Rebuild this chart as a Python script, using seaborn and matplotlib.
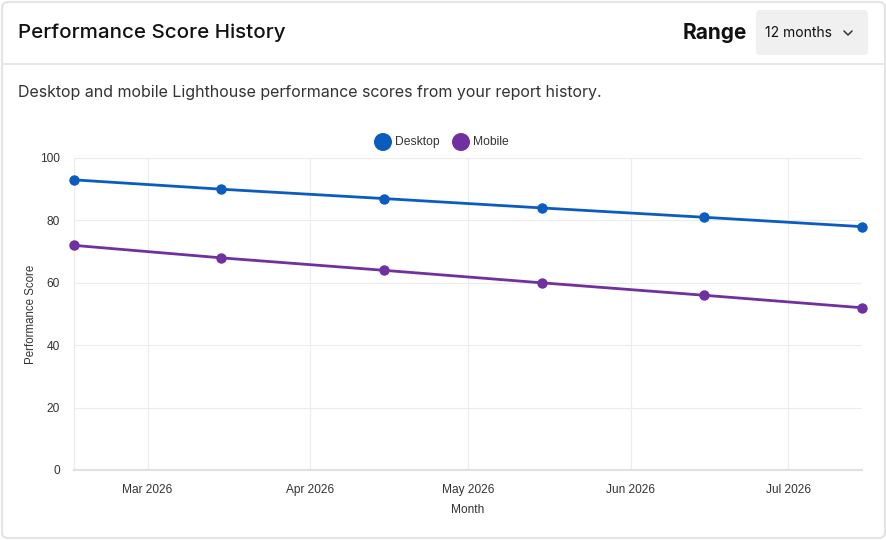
import numpy as np
import matplotlib
matplotlib.use("Agg")
import matplotlib.pyplot as plt
import matplotlib.dates as mdates
from matplotlib.patches import FancyBboxPatch, Circle
from matplotlib.lines import Line2D
import pandas as pd
import seaborn as sns

# data
months = ["2026-02-15", "2026-03-15", "2026-04-15", "2026-05-15", "2026-06-15", "2026-07-15"]
desktop_scores = [93, 90, 87, 84, 81, 78]
mobile_scores = [72, 68, 64, 60, 56, 52]
y_ticks = [0, 20, 40, 60, 80, 100]

colors = {"Desktop": "#0b5cbf", "Mobile": "#7030a0"}

df = pd.DataFrame({
    "Month": pd.to_datetime(months * 2),
    "Score": desktop_scores + mobile_scores,
    "Device": ["Desktop"] * len(months) + ["Mobile"] * len(months),
})

sns.set_theme(style="white")
plt.rcParams["font.family"] = ["Liberation Sans", "DejaVu Sans"]

W, H = 887, 540
fig = plt.figure(figsize=(W / 100, H / 100), dpi=100)
fig.patch.set_facecolor("white")

# card frame + header
bg = fig.add_axes([0, 0, 1, 1])
bg.set_xlim(0, W)
bg.set_ylim(H, 0)
bg.axis("off")
bg.add_patch(FancyBboxPatch((2, 2), W - 4, H - 4, boxstyle="round,pad=0,rounding_size=6",
                            fc="white", ec="#e4e4e4", lw=1.5))
bg.add_line(Line2D([2, W - 2], [63.5, 63.5], color="#e8e8e8", lw=1.5))
bg.text(18, 33, "Performance Score History", fontsize=14.8, family=["Inter", "DejaVu Sans"],
        fontweight="medium", color="#111111", va="center", ha="left")
bg.text(747, 33, "Range", fontsize=15, family=["Inter", "DejaVu Sans"],
        fontweight="bold", color="#111111", va="center", ha="right")
bg.add_patch(FancyBboxPatch((756, 10), 112, 45, boxstyle="round,pad=0,rounding_size=4",
                            fc="#f0f0f0", ec="none"))
bg.text(765, 33, "12 months", fontsize=10, family=["Inter", "DejaVu Sans"],
        color="#111111", va="center", ha="left")
bg.plot([844, 848, 852], [31, 35, 31], color="#333333", lw=1.1)
bg.text(18, 93, "Desktop and mobile Lighthouse performance scores from your report history.",
        fontsize=11.5, family=["Inter", "DejaVu Sans"], color="#333333", va="center", ha="left")

# legend
for cx, label in [(383, "Desktop"), (461, "Mobile")]:
    bg.add_patch(Circle((cx, 142), 9, fc=colors[label], ec="none"))
    bg.text(cx + 12, 142, label, fontsize=8.7, color="#333333", va="center", ha="left")

# chart
ax = fig.add_axes([74 / W, 1 - 470 / H, (862 - 74) / W, (470 - 158) / H])
sns.lineplot(data=df, x="Month", y="Score", hue="Device", palette=colors,
             marker="o", markersize=7.5, markeredgewidth=0, linewidth=2, ax=ax, legend=False)

ax.set_xlim(df["Month"].min(), df["Month"].max())
ax.set_ylim(0, 100)
ax.set_yticks(y_ticks)
ax.xaxis.set_major_locator(mdates.MonthLocator())
ax.xaxis.set_major_formatter(mdates.DateFormatter("%b %Y"))
ax.grid(True, color="#ececec", lw=0.8)
ax.set_axisbelow(True)
for s in ["top", "right"]:
    ax.spines[s].set_visible(False)
ax.spines["left"].set_color("#ececec")
ax.spines["left"].set_linewidth(0.8)
ax.spines["bottom"].set_color("#e0e0e0")
ax.spines["bottom"].set_linewidth(1.5)
ax.tick_params(axis="both", length=0, labelsize=8.6, labelcolor="#333333")
ax.tick_params(axis="y", pad=10)
ax.tick_params(axis="x", pad=10)
ax.set_xlabel("Month", fontsize=8.6, color="#333333", labelpad=6)
ax.set_ylabel("Performance Score", fontsize=8.3, color="#333333", labelpad=2)
for line in ax.lines:
    line.set_clip_on(False)
    line.set_zorder(5)

fig.savefig("out.png", dpi=100)
